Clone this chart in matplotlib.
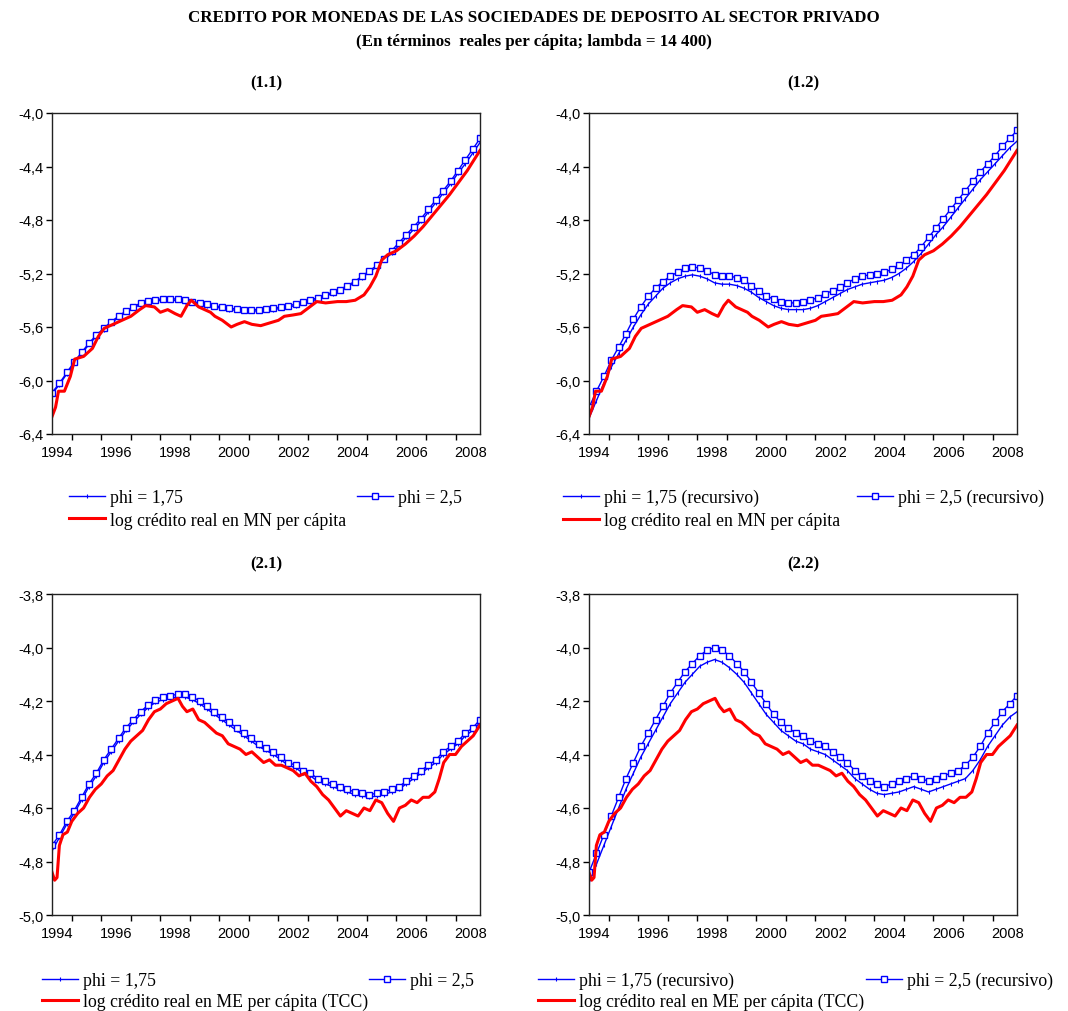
import matplotlib
matplotlib.use("Agg")
import matplotlib.pyplot as plt
import numpy as np
import pandas as pd

# fechas trimestrales para las tendencias (may-1994 .. nov-2008)
q = pd.date_range("1994-05-01", "2008-11-01", freq="3MS")
t_q = q.year + (q.month - 1) / 12.0

# (1.1) tendencias HP, credito MN
mn_phi175 = [-6.10, -6.03, -5.95, -5.87, -5.80, -5.73, -5.67, -5.62, -5.57, -5.53,
             -5.49, -5.46, -5.43, -5.415, -5.405, -5.40, -5.40, -5.40, -5.41, -5.42,
             -5.43, -5.44, -5.45, -5.46, -5.47, -5.475, -5.48, -5.48, -5.48, -5.475,
             -5.47, -5.46, -5.45, -5.44, -5.42, -5.41, -5.39, -5.37, -5.35, -5.33,
             -5.30, -5.27, -5.23, -5.19, -5.15, -5.10, -5.05, -4.99, -4.93, -4.87,
             -4.81, -4.74, -4.67, -4.60, -4.53, -4.45, -4.38, -4.30, -4.22]
mn_phi25 = [-6.09, -6.02, -5.94, -5.86, -5.79, -5.72, -5.66, -5.61, -5.56, -5.52,
            -5.48, -5.45, -5.42, -5.405, -5.395, -5.39, -5.39, -5.39, -5.40, -5.41,
            -5.42, -5.43, -5.44, -5.45, -5.46, -5.465, -5.47, -5.47, -5.47, -5.465,
            -5.46, -5.45, -5.44, -5.43, -5.41, -5.40, -5.38, -5.36, -5.34, -5.32,
            -5.29, -5.26, -5.22, -5.18, -5.14, -5.09, -5.03, -4.97, -4.91, -4.85,
            -4.79, -4.72, -4.65, -4.58, -4.51, -4.43, -4.35, -4.27, -4.19]
# (1.2) recursivo
mn_rec175 = [-6.28, -6.15, -6.02, -5.90, -5.80, -5.70, -5.60, -5.51, -5.43, -5.37,
             -5.31, -5.27, -5.24, -5.22, -5.21, -5.22, -5.24, -5.27, -5.28, -5.28,
             -5.29, -5.31, -5.34, -5.38, -5.41, -5.44, -5.46, -5.47, -5.47, -5.47,
             -5.46, -5.44, -5.41, -5.38, -5.35, -5.32, -5.30, -5.28, -5.27, -5.26,
             -5.25, -5.23, -5.20, -5.16, -5.11, -5.05, -4.98, -4.91, -4.85, -4.78,
             -4.71, -4.64, -4.57, -4.50, -4.44, -4.38, -4.32, -4.26, -4.21]
mn_rec25 = [-6.20, -6.08, -5.97, -5.85, -5.75, -5.65, -5.54, -5.45, -5.37, -5.31,
            -5.26, -5.22, -5.19, -5.16, -5.15, -5.16, -5.18, -5.21, -5.22, -5.22,
            -5.23, -5.25, -5.29, -5.33, -5.37, -5.39, -5.41, -5.42, -5.42, -5.41,
            -5.40, -5.38, -5.35, -5.33, -5.30, -5.27, -5.24, -5.22, -5.21, -5.20,
            -5.19, -5.17, -5.14, -5.10, -5.06, -5.00, -4.93, -4.86, -4.79, -4.72,
            -4.65, -4.58, -4.51, -4.44, -4.38, -4.32, -4.25, -4.19, -4.13]
# (2.1) tendencias HP, credito ME
me_phi175 = [-4.76, -4.71, -4.66, -4.62, -4.57, -4.52, -4.48, -4.43, -4.39, -4.35,
             -4.31, -4.28, -4.25, -4.225, -4.205, -4.195, -4.19, -4.185, -4.185, -4.195,
             -4.21, -4.23, -4.25, -4.27, -4.29, -4.31, -4.33, -4.35, -4.37, -4.385,
             -4.40, -4.42, -4.44, -4.45, -4.47, -4.48, -4.50, -4.51, -4.52, -4.53,
             -4.54, -4.55, -4.555, -4.56, -4.555, -4.55, -4.54, -4.53, -4.51, -4.49,
             -4.47, -4.45, -4.43, -4.40, -4.38, -4.36, -4.33, -4.31, -4.28]
me_phi25 = [-4.74, -4.70, -4.65, -4.61, -4.56, -4.51, -4.47, -4.42, -4.38, -4.34,
            -4.30, -4.27, -4.24, -4.215, -4.195, -4.185, -4.18, -4.175, -4.175, -4.185,
            -4.20, -4.22, -4.24, -4.26, -4.28, -4.30, -4.32, -4.34, -4.36, -4.375,
            -4.39, -4.41, -4.43, -4.44, -4.46, -4.47, -4.49, -4.50, -4.51, -4.52,
            -4.53, -4.54, -4.545, -4.55, -4.545, -4.54, -4.53, -4.52, -4.50, -4.48,
            -4.46, -4.44, -4.42, -4.39, -4.37, -4.35, -4.32, -4.30, -4.27]
# (2.2) recursivo
me_rec175 = [-4.88, -4.81, -4.74, -4.67, -4.60, -4.53, -4.47, -4.41, -4.36, -4.31,
             -4.26, -4.21, -4.17, -4.13, -4.10, -4.07, -4.055, -4.045, -4.055, -4.075,
             -4.10, -4.13, -4.17, -4.21, -4.25, -4.28, -4.31, -4.33, -4.35, -4.36,
             -4.38, -4.39, -4.40, -4.42, -4.44, -4.46, -4.49, -4.51, -4.53, -4.545,
             -4.55, -4.545, -4.54, -4.53, -4.52, -4.53, -4.54, -4.53, -4.52, -4.51,
             -4.50, -4.49, -4.46, -4.42, -4.37, -4.33, -4.29, -4.26, -4.24]
me_rec25 = [-4.84, -4.77, -4.70, -4.63, -4.56, -4.49, -4.43, -4.37, -4.32, -4.27,
            -4.22, -4.17, -4.13, -4.09, -4.06, -4.03, -4.01, -4.00, -4.01, -4.03,
            -4.06, -4.09, -4.13, -4.17, -4.21, -4.25, -4.28, -4.30, -4.32, -4.33,
            -4.35, -4.36, -4.37, -4.39, -4.41, -4.43, -4.46, -4.48, -4.50, -4.51,
            -4.52, -4.51, -4.50, -4.49, -4.48, -4.49, -4.50, -4.49, -4.48, -4.47,
            -4.46, -4.44, -4.41, -4.37, -4.32, -4.28, -4.24, -4.21, -4.18]

# series observadas (log credito real per capita)
mn_t = [1994.33, 1994.45, 1994.55, 1994.75, 1994.95, 1995.1, 1995.4, 1995.7, 1995.9, 1996.1,
        1996.4, 1996.7, 1997.0, 1997.3, 1997.5, 1997.8, 1998.0, 1998.25, 1998.5, 1998.7,
        1998.9, 1999.05, 1999.3, 1999.5, 1999.7, 1999.85, 2000.1, 2000.4, 2000.6, 2000.85,
        2001.1, 2001.4, 2001.7, 2002.0, 2002.2, 2002.5, 2002.76, 2003.0, 2003.3, 2003.6,
        2004.0, 2004.3, 2004.6, 2004.9, 2005.1, 2005.3, 2005.5, 2005.7, 2006.0, 2006.3,
        2006.6, 2006.9, 2007.2, 2007.5, 2007.8, 2008.1, 2008.4, 2008.6, 2008.83]
mn_v = [-6.27, -6.20, -6.08, -6.08, -5.97, -5.84, -5.82, -5.76, -5.67, -5.61,
        -5.58, -5.55, -5.52, -5.47, -5.44, -5.45, -5.49, -5.47, -5.50, -5.52,
        -5.44, -5.40, -5.45, -5.47, -5.49, -5.52, -5.55, -5.60, -5.58, -5.56,
        -5.58, -5.59, -5.57, -5.55, -5.52, -5.51, -5.50, -5.46, -5.41, -5.42,
        -5.41, -5.41, -5.40, -5.36, -5.30, -5.22, -5.10, -5.06, -5.03, -4.98,
        -4.92, -4.85, -4.77, -4.69, -4.61, -4.52, -4.43, -4.36, -4.28]
me_t = [1994.33, 1994.42, 1994.5, 1994.58, 1994.7, 1994.85, 1995.0, 1995.2, 1995.4, 1995.6,
        1995.8, 1996.0, 1996.2, 1996.4, 1996.6, 1996.8, 1997.0, 1997.2, 1997.4, 1997.6,
        1997.8, 1998.0, 1998.2, 1998.4, 1998.6, 1998.75, 1998.9, 1999.1, 1999.3, 1999.5,
        1999.7, 1999.9, 2000.1, 2000.3, 2000.5, 2000.7, 2000.9, 2001.1, 2001.3, 2001.5,
        2001.7, 2001.9, 2002.1, 2002.3, 2002.5, 2002.7, 2002.9, 2003.1, 2003.3, 2003.5,
        2003.7, 2003.9, 2004.1, 2004.3, 2004.5, 2004.7, 2004.9, 2005.1, 2005.3, 2005.5,
        2005.7, 2005.9, 2006.1, 2006.3, 2006.5, 2006.7, 2006.9, 2007.1, 2007.3, 2007.45,
        2007.6, 2007.8, 2008.0, 2008.2, 2008.4, 2008.6, 2008.83]
me_v = [-4.84, -4.87, -4.86, -4.74, -4.70, -4.69, -4.65, -4.62, -4.60, -4.56,
        -4.53, -4.51, -4.48, -4.46, -4.42, -4.38, -4.35, -4.33, -4.31, -4.27,
        -4.24, -4.23, -4.21, -4.20, -4.19, -4.22, -4.24, -4.23, -4.27, -4.28,
        -4.30, -4.32, -4.33, -4.36, -4.37, -4.38, -4.40, -4.39, -4.41, -4.43,
        -4.42, -4.44, -4.44, -4.45, -4.46, -4.48, -4.47, -4.50, -4.52, -4.55,
        -4.57, -4.60, -4.63, -4.61, -4.62, -4.63, -4.60, -4.61, -4.57, -4.58,
        -4.62, -4.65, -4.60, -4.59, -4.57, -4.58, -4.56, -4.56, -4.54, -4.49,
        -4.43, -4.40, -4.40, -4.37, -4.35, -4.33, -4.29]

yt_top = [-6.4, -6.0, -5.6, -5.2, -4.8, -4.4, -4.0]
yt_bot = [-5.0, -4.8, -4.6, -4.4, -4.2, -4.0, -3.8]
year_labels = ["1994", "1996", "1998", "2000", "2002", "2004", "2006", "2008"]

SERIF = "Liberation Serif"
SANS = "Liberation Sans"
BLUE = "#0000ff"
RED = "#ff0000"
LEGFONT = {"family": SERIF, "size": 12.8}

fig = plt.figure(figsize=(10.68, 10.12), dpi=100)
W, H = 1068.0, 1012.0


def panel(left, top, title, yt, trend1, trend2, t_obs, v_obs, lab1, lab2, lab3, leg):
    ax = fig.add_axes([left / W, 1 - (top + 321) / H, 428 / W, 321 / H])
    h1, = ax.plot(t_q, trend1, color=BLUE, lw=1.0, marker="|", ms=2.5, mew=0.8)
    h2, = ax.plot(t_q, trend2, color=BLUE, lw=1.0, marker="s", ms=4.3,
                  mfc="white", mec=BLUE, mew=1.0)
    h3, = ax.plot(t_obs, v_obs, color=RED, lw=2.2)
    ax.set_xlim(1994.33, 2008.83)
    ax.set_ylim(yt[0], yt[-1])
    ax.set_yticks(yt)
    ax.set_yticklabels([f"{v:.1f}".replace(".", ",") for v in yt],
                       fontfamily=SANS, fontsize=10.5)
    ax.set_xticks(range(1995, 2009))
    ax.set_xticklabels([])
    ax.set_xticks([y + 0.5 for y in range(1994, 2009, 2)], minor=True)
    ax.set_xticklabels(year_labels, minor=True, fontfamily=SANS, fontsize=10.5)
    ax.tick_params(axis="x", which="major", direction="out", length=4, width=1)
    ax.tick_params(axis="x", which="minor", length=0, pad=8)
    ax.tick_params(axis="y", direction="out", length=4, width=1, pad=2)
    for s in ax.spines.values():
        s.set_linewidth(1.0)
        s.set_color("#222222")
    fig.text((left + 214) / W, 1 - (top - 31) / H, title, ha="center", va="center",
             fontfamily=SERIF, fontweight="bold", fontsize=12)
    # leyenda en dos columnas, como en el original
    x1, x2, ytop, sp = leg
    l1 = ax.legend([h1, h3], [lab1, lab3], loc="upper left",
                   bbox_to_anchor=(x1 / W, 1 - ytop / H), bbox_transform=fig.transFigure,
                   frameon=False, borderpad=0, borderaxespad=0, handlelength=2.0,
                   handletextpad=0.3, labelspacing=sp, prop=LEGFONT)
    ax.add_artist(l1)
    ax.legend([h2], [lab2], loc="upper left",
              bbox_to_anchor=(x2 / W, 1 - ytop / H), bbox_transform=fig.transFigure,
              frameon=False, borderpad=0, borderaxespad=0, handlelength=2.0,
              handletextpad=0.3, prop=LEGFONT)
    return ax


panel(52, 114, "(1.1)", yt_top, mn_phi175, mn_phi25, mn_t, mn_v,
      "phi = 1,75", "phi = 2,5", "log crédito real en MN per cápita", (69, 357, 490, 0.32))
panel(589, 114, "(1.2)", yt_top, mn_rec175, mn_rec25, mn_t, mn_v,
      "phi = 1,75 (recursivo)", "phi = 2,5 (recursivo)",
      "log crédito real en MN per cápita", (563, 857, 490, 0.32))
panel(52, 595, "(2.1)", yt_bot, me_phi175, me_phi25, me_t, me_v,
      "phi = 1,75", "phi = 2,5", "log crédito real en ME per cápita (TCC)",
      (42, 369, 973, 0.2))
panel(589, 595, "(2.2)", yt_bot, me_rec175, me_rec25, me_t, me_v,
      "phi = 1,75 (recursivo)", "phi = 2,5 (recursivo)",
      "log crédito real en ME per cápita (TCC)", (538, 866, 973, 0.2))

fig.text(0.5, 1 - 18 / H, "CREDITO POR MONEDAS DE LAS SOCIEDADES DE DEPOSITO AL SECTOR PRIVADO",
         ha="center", va="center", fontfamily=SERIF, fontweight="bold", fontsize=12.2)
fig.text(0.5, 1 - 42 / H, "(En términos  reales per cápita; lambda = 14 400)",
         ha="center", va="center", fontfamily=SERIF, fontweight="bold", fontsize=12.2)

fig.savefig("out.png", dpi=100)
